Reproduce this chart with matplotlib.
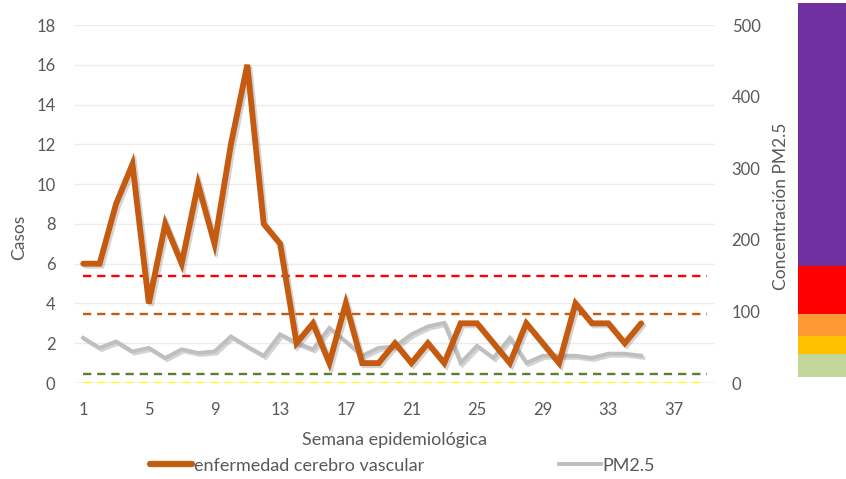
import matplotlib
matplotlib.use('Agg')
import matplotlib.pyplot as plt
import matplotlib.patheffects as pe

plt.rcParams['font.family'] = ['Lato', 'DejaVu Sans']

# Weekly data
weeks = list(range(1, 36))
casos = [6, 6, 9, 11, 4, 8, 6, 10, 7, 12, 16, 8, 7, 2, 3, 1, 4, 1, 1, 2,
         1, 2, 1, 3, 3, 2, 1, 3, 2, 1, 4, 3, 3, 2, 3]
pm25 = [63, 49, 58, 44, 49, 35, 47, 42, 44, 65, 51, 38, 68, 56, 47, 77, 58, 38, 49, 51,
        68, 79, 84, 28, 52, 35, 63, 28, 38, 38, 38, 35, 41, 41, 38]

# Threshold lines (PM2.5 units) drawn over weeks 1-39
umbral_weeks = [1, 39]
umbrales = [150, 97, 12, 0]
umbral_colors = ['#ff0000', '#c55a11', '#548235', '#ffff00']

# Colour scale bands (PM2.5 units)
band_edges = [9, 40, 66, 96, 163, 531]
band_colors = ['#c4d79b', '#ffc000', '#ff9933', '#ff0000', '#7030a0']

text_color = '#595959'
orange = '#c55a11'
gray = '#bfbfbf'

fig = plt.figure(figsize=(8.46, 4.79), dpi=100)
W, H = 846, 479
ax = fig.add_axes([75 / W, (H - 383) / H, 640 / W, 358 / H])
ax2 = ax.twinx()

ax.set_xlim(0.5, 39.5)
ax.set_ylim(0, 18)
ax2.set_ylim(0, 500)

# grid
ax.set_yticks(range(0, 19, 2))
ax.grid(axis='y', color='#ececec', linewidth=1)
ax.set_axisbelow(True)
for a in (ax, ax2):
    for s in a.spines.values():
        s.set_visible(False)
ax.axhline(0, color='#d9d9d9', linewidth=1, zorder=1)

# thresholds
for val, col in zip(umbrales, umbral_colors):
    ax2.plot(umbral_weeks, [val, val], color=col, linewidth=1.7,
             linestyle=(0, (3.5, 2.5)), zorder=2)

shadow = [pe.SimpleLineShadow(offset=(1.5, -1.5), alpha=0.25, shadow_color='#555555'),
          pe.Normal()]
ax2.plot(weeks, pm25, color=gray, linewidth=2.8, zorder=3, path_effects=shadow,
         solid_joinstyle='miter')
# cases line lives on the top axes but uses the left-axis scale
ax2.plot(weeks, casos, color=orange, linewidth=4.2, zorder=5, path_effects=shadow,
         solid_capstyle='round', solid_joinstyle='miter', transform=ax.transData)

ax.set_xticks(range(1, 38, 4))
ax.tick_params(axis='both', length=0, labelsize=12, colors=text_color)
ax.tick_params(axis='y', pad=14)
ax.tick_params(axis='x', pad=14)
ax2.set_yticks(range(0, 501, 100))
ax2.tick_params(axis='y', length=0, labelsize=12, colors=text_color, pad=12)

ax.set_ylabel('Casos', fontsize=12.5, color=text_color)
ax.yaxis.set_label_coords(-0.075, 0.408)
ax2.set_ylabel('Concentración PM2.5', fontsize=12.5, color=text_color)
ax2.yaxis.set_label_coords(1.09, 0.494)
ax.set_xlabel('Semana epidemiológica', fontsize=13, color=text_color, labelpad=10)

# colour scale bar at the right edge
bx = fig.add_axes([798 / W, (H - 383) / H, 48 / W, 358 / H])
bx.set_xlim(0, 1)
bx.set_ylim(0, 500)
for lo, hi, col in zip(band_edges[:-1], band_edges[1:], band_colors):
    bx.bar(0.5, hi - lo, bottom=lo, width=1, color=col, linewidth=0, clip_on=False)
bx.axis('off')

h1, = ax.plot([], [], color=orange, linewidth=4.5, solid_capstyle='round')
h2, = ax.plot([], [], color=gray, linewidth=2.8)
leg = fig.legend([h1, h2], ['enfermedad cerebro vascular', 'PM2.5'],
                 loc='center', bbox_to_anchor=(0.476, 0.028), ncol=2, frameon=False,
                 fontsize=13, handlelength=2.3, handletextpad=0.1,
                 columnspacing=7.5, borderpad=0)
for t in leg.get_texts():
    t.set_color(text_color)

fig.savefig('out.png', dpi=100, facecolor='white')
